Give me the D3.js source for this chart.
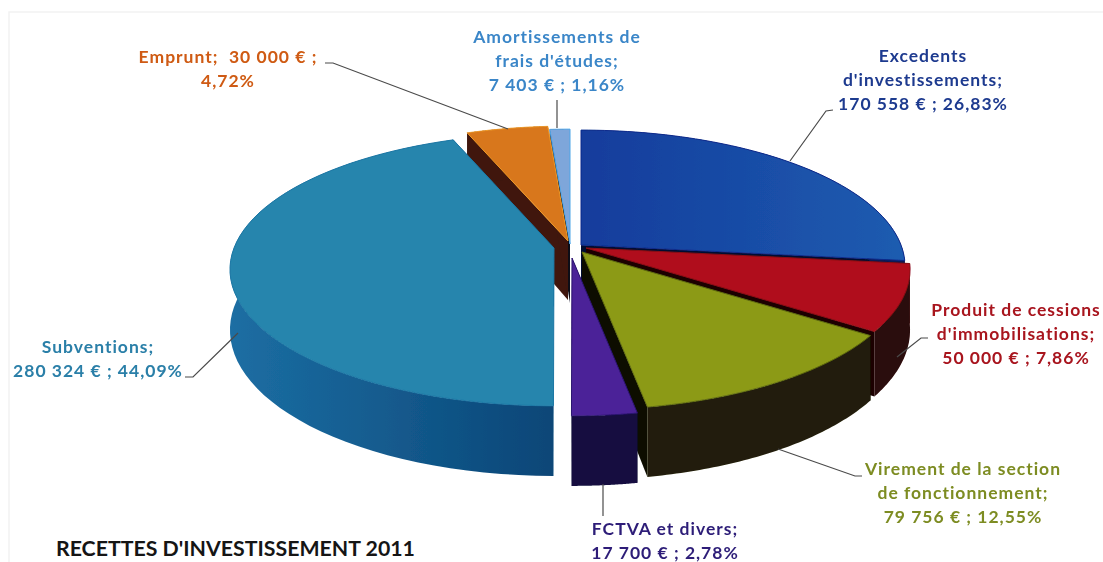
<!DOCTYPE html>
<html lang="fr"><head><meta charset="utf-8">
<script src="https://cdn.jsdelivr.net/npm/d3@7/dist/d3.min.js"></script>
<style>html,body{margin:0;padding:0;background:#fff}svg{display:block}text{font-family:Lato,"Open Sans",sans-serif;font-weight:700}</style>
</head><body><div id="c"></div>
<script>
// ---- data ----
const categories = ["Excedents d'investissements","Produit de cessions d'immobilisations","Virement de la section de fonctionnement","FCTVA et divers","Subventions","Emprunt","Amortissements de frais d'études"];
const amounts = [170558,50000,79756,17700,280324,30000,7403];
const labelLines = [
  ["Excedents","d'investissements;","170 558 € ; 26,83%"],
  ["Produit de cessions","d'immobilisations;","50 000 € ; 7,86%"],
  ["Virement de la section","de fonctionnement;","79 756 € ; 12,55%"],
  ["FCTVA et divers;","17 700 € ; 2,78%"],
  ["Subventions;","280 324 € ; 44,09%"],
  ["Emprunt;  30 000 € ;","4,72%"],
  ["Amortissements de","frais d'études;","7 403 € ; 1,16%"]
];
const title = "RECETTES D'INVESTISSEMENT 2011";

// ---- styling / layout ----
const W=1103,H=562;
const topColors  = ["#1a4fa6","#b00f1c","#8c9a16","#4c2398","#2585ad","#d8771a","#7ea6da"];
const edgeColors = ["#0f2a8c","#8a0a14","#5f6a10","#2c1470","#1f78a5","#f09a28","#4da6e8"];
const wallColors = ["#0a1a55","#2b0808","#221f08","#13103f","#14639a","#3f160c","#20406a"];
const cutColors  = ["#060f30","#1a0505","#0d0c03","#0d0a30","#0c4a78","#3f160c","#0c0c18"];
const textColors = ["#1f3a8f","#a8131f","#7d8c22","#2d1f78","#2a7fa8","#cf5a12","#3a86c8"];
const apexes = [[581,245],[586,248],[582,252],[572,258],[554,248],[568,241],[570,244]];
const labelCx = [923,1016,963,665,98,228,557];
const labelY0 = [62,316,475,535,353,63,43];
const lineH = 24;
const leaders = [
  [[833,110],[826,111],[790,161]],
  [[928,338],[921,338],[897,357]],
  [[862,476],[855,476],[778,449]],
  [[603,484],[603,516]],
  [[185,377],[193,377],[238,333]],
  [[325,63],[333,63],[508,129]],
  [[557,100],[557,128]]
];
const drawOrder = [6,5,0,4,1,2,3];
const b=320,a=133,p=0.1575,depth=59;

const pie = d3.pie().sort(null).value(d=>d).startAngle(0).endAngle(2*Math.PI);
const arcs = pie(amounts);

const project=(i,t,r=1,z=0)=>{
  const X=r*Math.sin(t),Y=r*Math.cos(t),den=1+p*Y;
  return [apexes[i][0]+b*X/den, apexes[i][1]-a*Y/den+z*depth/den];
};
const sample=(t0,t1)=>d3.range(0,61).map(k=>t0+(t1-t0)*k/60);
const line=d3.line();

const svg=d3.select("#c").append("svg").attr("width",W).attr("height",H);
const defs=svg.append("defs");
defs.append("filter").attr("id","scan").attr("x","-2%").attr("y","-2%").attr("width","104%").attr("height","104%")
  .append("feGaussianBlur").attr("stdDeviation",0.55);
const gradWall=defs.append("linearGradient").attr("id","subWall").attr("x1",0).attr("x2",1).attr("y1",0).attr("y2",0);
gradWall.append("stop").attr("offset","0%").attr("stop-color","#1c6ea3");
gradWall.append("stop").attr("offset","100%").attr("stop-color","#0a4677");
const gradTop=defs.append("linearGradient").attr("id","excTop").attr("x1",0).attr("x2",1).attr("y1",0).attr("y2",0);
gradTop.append("stop").attr("offset","0%").attr("stop-color","#123c9c");
gradTop.append("stop").attr("offset","100%").attr("stop-color","#1f5cb0");

svg.append("rect").attr("width",W).attr("height",H).attr("fill","#fff");
svg.append("path").attr("d",line([[9,H],[9,12],[W,12]])).attr("fill","none").attr("stroke","#f2f2f2").attr("stroke-width",1.5);

const pieG=svg.append("g").attr("filter","url(#scan)");
drawOrder.forEach(i=>{
  const d=arcs[i],t0=d.startAngle,t1=d.endAngle,g=pieG.append("g");
  const ap=project(i,0,0,0),apD=project(i,0,0,1);
  [t0,t1].forEach(t=>{
    g.append("path").attr("d",line([ap,project(i,t),project(i,t,1,1),apD])+"Z").attr("fill",cutColors[i]);
  });
  const ts=sample(t0,t1);
  const wall=ts.map(t=>project(i,t)).concat(ts.slice().reverse().map(t=>project(i,t,1,1)));
  g.append("path").attr("d",line(wall)+"Z").attr("fill",i===4?"url(#subWall)":wallColors[i]);
  const face=[ap].concat(ts.map(t=>project(i,t)));
  g.append("path").attr("d",line(face)+"Z").attr("fill",i===0?"url(#excTop)":topColors[i]).attr("stroke",edgeColors[i]).attr("stroke-width",1);
});

svg.append("g").selectAll("path").data(leaders).join("path")
  .attr("d",d=>line(d)).attr("fill","none").attr("stroke","#4a4a4a").attr("stroke-width",1.2);

const lab=svg.append("g").attr("filter","url(#scan)").selectAll("text").data(categories).join("text")
  .attr("text-anchor","middle").attr("font-size",17.5).attr("letter-spacing",1)
  .attr("fill",(d,i)=>textColors[i]);
lab.each(function(d,i){
  d3.select(this).selectAll("tspan").data(labelLines[i]).join("tspan")
    .attr("x",labelCx[i]).attr("y",(s,k)=>labelY0[i]+k*lineH)
    .style("white-space","pre").text(s=>s);
});
svg.append("text").attr("x",56).attr("y",556).attr("font-size",21.3).attr("fill","#151515").text(title);
</script></body></html>
